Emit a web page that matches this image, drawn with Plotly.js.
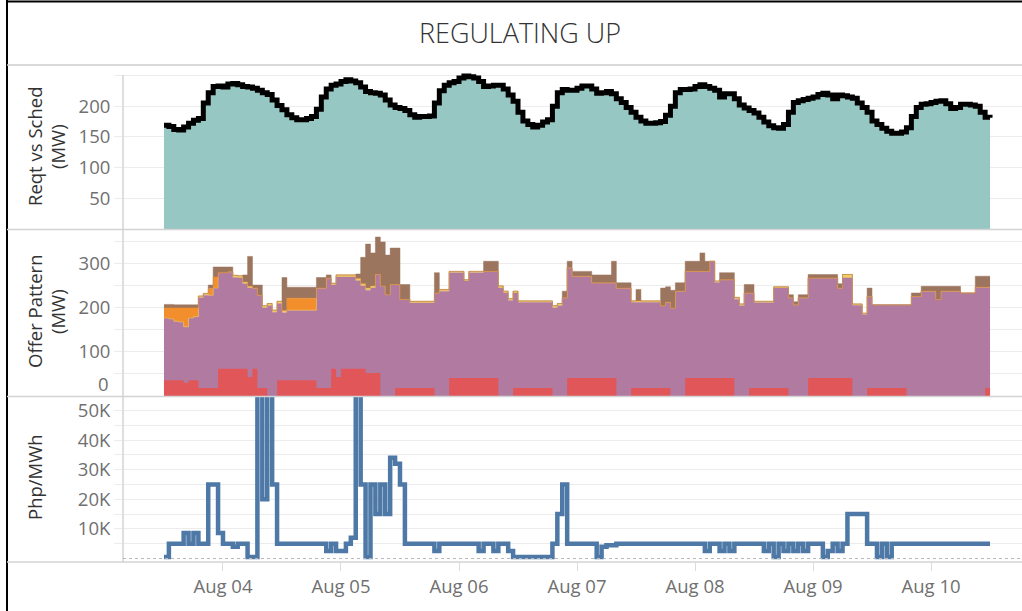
<!DOCTYPE html>
<html><head><meta charset="utf-8">
<script src="https://cdn.plot.ly/plotly-3.0.1.min.js"></script>
<style>html,body{margin:0;padding:0;background:#fff;}#chart{width:1022px;height:611px;}</style>
</head><body><div id="chart"></div>
<script>
// ---------- DATA (hourly, starting Aug 03 12:00) ----------
const startYear = 2023, startMonth = 8, startDay = 3, startHour = 12;
const chartTitle = 'REGULATING UP';
const dateTicks = ['2023-08-04','2023-08-05','2023-08-06','2023-08-07','2023-08-08','2023-08-09','2023-08-10'];

const req = [169,167,162,161,166,172,177,180,205,222,
232,233,231,236,237,235,232,231,229,226,
222,219,210,201,194,186,181,178,178,180,
183,195,215,228,234,236,240,243,241,238,
231,224,222,221,218,210,202,198,196,193,
186,182,183,183,184,205,225,234,238,240,
246,249,248,246,240,232,233,234,234,228,
218,208,190,176,170,166,169,174,178,200,
222,227,226,226,229,233,233,228,221,222,
224,220,212,206,198,190,182,176,172,172,
173,175,185,200,222,227,227,228,232,235,
232,229,226,215,220,220,212,202,197,193,
189,182,174,168,165,164,170,190,206,209,
211,213,215,219,221,218,212,218,217,215,
213,205,198,190,176,170,164,159,156,156,
158,165,183,198,203,204,206,208,209,204,
196,198,203,203,202,200,190,182,181];

const sched = [169,167,162,161,166,172,177,180,205,222,
232,233,231,236,237,235,232,231,229,226,
222,219,210,201,194,186,181,178,178,180,
183,195,215,228,234,236,240,243,241,238,
231,224,222,221,218,210,202,198,196,193,
186,182,183,183,184,205,225,234,238,240,
246,249,248,246,240,232,233,234,234,228,
218,208,190,176,170,166,169,174,178,200,
222,227,226,226,229,233,233,228,221,222,
224,220,212,206,198,190,182,176,172,172,
173,175,185,200,222,227,227,228,232,235,
232,229,226,215,220,220,212,202,197,193,
189,182,174,168,165,164,170,190,206,209,
211,213,215,219,221,218,212,218,217,215,
213,205,198,190,176,170,164,159,156,156,
158,165,183,198,203,204,206,208,209,204,
196,198,203,203,202,200,190,182,181];

const offerPurple = [177,175,170,168,157,177,180,223,229,229,
245,280,280,282,269,268,255,245,245,229,
200,205,190,210,189,195,195,195,195,195,
195,245,245,268,252,270,270,270,270,262,
250,240,245,276,250,230,253,253,219,219,
211,211,211,211,211,234,238,238,280,280,
280,261,280,280,280,283,283,283,245,234,
217,234,213,213,213,213,213,213,213,200,
205,223,291,272,272,272,272,257,257,257,
257,257,245,245,245,213,213,213,213,213,
213,205,213,200,238,238,283,283,283,283,
283,306,258,264,264,264,220,205,234,234,
212,212,212,212,245,245,245,223,207,223,
223,268,268,268,268,268,268,245,268,268,
206,206,185,226,207,207,207,207,207,207,
207,207,226,226,238,238,238,219,238,238,
238,238,234,234,234,247,247,247,247];

const offerYellow = [0,0,0,0,0,0,0,4,4,0,
0,0,0,0,5,5,4,4,0,0,
5,5,5,5,5,0,0,0,0,0,
0,0,0,0,4,5,5,5,5,5,
5,5,5,0,0,0,0,0,0,0,
4,4,4,4,4,0,4,4,3,3,
3,3,3,3,3,0,0,0,5,4,
4,4,3,3,3,3,3,3,3,5,
5,0,0,0,0,0,0,0,0,0,
0,0,0,0,0,3,3,3,3,3,
3,0,0,0,0,0,0,0,0,0,
0,0,3,0,0,0,4,4,0,0,
3,3,3,3,3,3,3,0,0,0,
0,0,0,0,0,0,0,0,8,8,
3,3,3,0,0,0,0,0,0,0,
0,0,0,0,0,0,0,0,0,0,
0,0,0,0,0,0,0,0,0];

const offerOrange = [23,25,30,32,43,23,20,0,0,15,
25,0,0,0,0,0,0,0,0,0,
0,0,0,0,0,27,27,27,27,27,
27,0,0,0,0,0,0,0,0,0,
0,0,0,0,0,0,0,0,0,0,
0,0,0,0,0,0,0,0,0,0,
0,0,0,0,0,0,0,0,0,0,
0,0,0,0,0,0,0,0,0,0,
0,0,0,0,0,0,0,0,0,0,
0,0,0,0,0,0,0,0,0,0,
0,0,0,0,0,0,0,0,0,0,
0,0,0,0,0,0,0,0,0,0,
0,0,0,0,0,0,0,0,0,0,
0,0,0,0,0,0,0,0,0,0,
0,0,0,0,0,0,0,0,0,0,
0,0,0,0,0,0,0,0,0,0,
0,0,0,0,0,0,0,0,0];

const offerBrown = [8,8,7,7,7,7,7,0,0,8,
23,13,13,11,0,0,16,68,7,23,
0,0,0,0,75,25,25,25,25,25,
25,24,24,7,0,0,0,0,0,10,
60,100,75,85,100,90,83,83,34,34,
0,0,0,0,0,46,0,0,0,0,
0,0,0,0,0,23,23,23,0,0,
0,0,0,0,0,0,0,0,0,0,
0,15,15,11,11,11,11,18,18,18,
18,49,12,12,12,0,26,0,0,0,
0,40,35,40,19,19,23,23,23,42,
23,0,0,16,16,16,0,0,19,19,
0,0,0,0,0,0,0,7,7,7,
7,8,8,8,8,8,8,10,0,0,
0,0,0,19,0,0,0,0,0,0,
0,0,8,8,11,11,11,30,11,11,
11,11,0,0,0,25,25,25,25];

const offerRed = [36,36,36,36,30,36,36,18,18,18,
18,62,62,62,62,62,62,43,62,18,
18,0,0,36,36,36,36,36,36,36,
36,18,18,18,62,43,62,62,62,62,
62,52,52,52,0,0,0,18,18,18,
18,18,18,18,18,0,0,0,41,41,
41,41,41,41,41,41,41,41,0,0,
0,18,18,18,18,18,18,18,18,0,
0,0,41,41,41,41,41,41,41,41,
41,41,0,0,0,18,18,18,18,18,
18,18,18,0,0,0,41,41,41,41,
41,41,41,41,41,41,0,0,0,18,
18,18,18,18,18,18,18,0,0,0,
0,41,41,41,41,41,41,41,41,41,
0,0,0,18,18,18,18,18,18,18,
18,0,0,0,0,0,0,0,0,0,
0,0,0,0,0,0,0,18,18];

const price = [500,5000,5000,5000,8600,5000,8600,5000,5000,25000,
25000,8600,5000,5000,4000,5000,5000,500,500,60000,
20000,60000,25000,5000,5000,5000,5000,5000,5000,5000,
5000,5000,5000,2500,5000,2500,2500,5000,7000,60000,
25000,500,25000,15000,25000,15000,34000,32000,25000,5000,
5000,5000,5000,5000,5000,2500,5000,5000,5000,5000,
5000,5000,5000,5000,2500,5000,5000,2500,5000,5000,
2500,500,500,500,500,500,500,500,500,5000,
15000,25000,5000,5000,5000,5000,5000,5000,500,4000,
4500,4500,5000,5000,5000,5000,5000,5000,5000,5000,
5000,5000,5000,5000,5000,5000,5000,5000,5000,5000,
2500,5000,5000,2500,5000,2500,5000,5000,5000,5000,
5000,5000,2500,5000,500,5000,2500,5000,2500,5000,
2500,5000,5000,5000,500,2500,5000,2500,5000,15000,
15000,15000,15000,5000,5000,500,5000,500,5000,5000,
5000,5000,5000,5000,5000,5000,5000,5000,5000,5000,
5000,5000,5000,5000,5000,5000,5000,5000,5000];

const reqTickVals = [50,100,150,200,250];
const reqTickText = ['50','100','150','200',''];
const offerTickVals = [50,100,150,200,250,300,350];
const offerTickText = ['','100','','200','','300',''];
const priceTickVals = [5000,10000,15000,20000,25000,30000,35000,40000,45000,50000];
const priceTickText = ['','10K','','20K','','30K','','40K','','50K'];

// ---------- time axis ----------
function pad(n){return (n<10?'0':'')+n;}
function hourStamp(i){
  const d = new Date(Date.UTC(startYear, startMonth-1, startDay, startHour + i));
  return d.getUTCFullYear()+'-'+pad(d.getUTCMonth()+1)+'-'+pad(d.getUTCDate())+' '+pad(d.getUTCHours())+':00';
}
const times = req.map((_, i) => hourStamp(i));

// ---------- layout geometry (pixels) ----------
const W = 1022, H = 611, L = 123, R = 0, T = 65, B = 49;
const PW = W - L - R, PH = H - T - B;
const px = x => (x - L) / PW;
const py = y => (H - B - y) / PH;

const FONT = '"Open Sans", Lato, sans-serif';
const tickFont = {family: FONT, size: 18.5, color: '#707070'};
const titleFont = {family: FONT, size: 18.5, color: '#333333'};
const GRID = '#ececec';

const traces = [
  {x: times, y: sched, yaxis: 'y', type: 'scatter', mode: 'lines', fill: 'tozeroy',
   fillcolor: '#96c7c2', line: {color: '#80bdb7', width: 1, shape: 'hv'}, hoverinfo: 'skip'},
  {x: times, y: req, yaxis: 'y', type: 'scatter', mode: 'lines',
   line: {color: '#000000', width: 5, shape: 'hv'}, hoverinfo: 'skip'},
  {x: times, y: offerPurple, yaxis: 'y2', type: 'scatter', mode: 'lines', stackgroup: 'offer',
   fillcolor: '#b07aa1', line: {color: '#b07aa1', width: 0.5, shape: 'hv'}, hoverinfo: 'skip'},
  {x: times, y: offerYellow, yaxis: 'y2', type: 'scatter', mode: 'lines', stackgroup: 'offer',
   fillcolor: '#f1ce63', line: {color: '#f1ce63', width: 0.5, shape: 'hv'}, hoverinfo: 'skip'},
  {x: times, y: offerOrange, yaxis: 'y2', type: 'scatter', mode: 'lines', stackgroup: 'offer',
   fillcolor: '#f28e2b', line: {color: '#f28e2b', width: 0.5, shape: 'hv'}, hoverinfo: 'skip'},
  {x: times, y: offerBrown, yaxis: 'y2', type: 'scatter', mode: 'lines', stackgroup: 'offer',
   fillcolor: '#9c755f', line: {color: '#9c755f', width: 0.5, shape: 'hv'}, hoverinfo: 'skip'},
  {x: times, y: offerRed, yaxis: 'y2', type: 'scatter', mode: 'lines', fill: 'tozeroy',
   fillcolor: '#e15759', line: {color: '#e15759', width: 0, shape: 'hv'}, hoverinfo: 'skip'},
  {x: times, y: price, yaxis: 'y3', type: 'scatter', mode: 'lines',
   line: {color: '#4e79a7', width: 4.5, shape: 'hv'}, hoverinfo: 'skip'}
];

const sepColor = '#d3d3d3';
const shapes = [
  {type:'line', xref:'paper', yref:'paper', x0:px(7), x1:px(7), y0:py(611), y1:py(0), line:{color:'#000', width:2}},
  {type:'line', xref:'paper', yref:'paper', x0:px(6), x1:px(1022), y0:py(1.5), y1:py(1.5), line:{color:'#000', width:2}},
  {type:'line', xref:'paper', yref:'paper', x0:px(7), x1:1, y0:py(65), y1:py(65), line:{color:'#cccccc', width:1.5}},
  {type:'line', xref:'paper', yref:'paper', x0:px(7), x1:1, y0:py(229.5), y1:py(229.5), line:{color:sepColor, width:1.5}},
  {type:'line', xref:'paper', yref:'paper', x0:px(7), x1:1, y0:py(396.5), y1:py(396.5), line:{color:sepColor, width:1.5}},
  {type:'line', xref:'paper', yref:'paper', x0:px(7), x1:1, y0:py(562), y1:py(562), line:{color:sepColor, width:1.5}},
  {type:'line', xref:'paper', yref:'paper', x0:px(123), x1:px(123), y0:py(562), y1:py(75), line:{color:sepColor, width:1.5}},
  {type:'line', xref:'paper', yref:'y3', x0:0, x1:1, y0:0, y1:0, line:{color:'#b8b8b8', width:1, dash:'dot'}}
];

const annotations = [
  {text:'Reqt vs Sched', xref:'paper', yref:'paper', x:px(34), y:py(147), textangle:-90, showarrow:false, font:titleFont, xanchor:'center', yanchor:'middle'},
  {text:'(MW)', xref:'paper', yref:'paper', x:px(57), y:py(147), textangle:-90, showarrow:false, font:titleFont, xanchor:'center', yanchor:'middle'},
  {text:'Offer Pattern', xref:'paper', yref:'paper', x:px(34), y:py(312), textangle:-90, showarrow:false, font:titleFont, xanchor:'center', yanchor:'middle'},
  {text:'(MW)', xref:'paper', yref:'paper', x:px(57), y:py(312), textangle:-90, showarrow:false, font:titleFont, xanchor:'center', yanchor:'middle'},
  {text:'Php/MWh', xref:'paper', yref:'paper', x:px(34), y:py(477), textangle:-90, showarrow:false, font:titleFont, xanchor:'center', yanchor:'middle'},
  {text:'0', xref:'paper', yref:'paper', x:px(111), y:py(383), showarrow:false, font:tickFont, xanchor:'right', yanchor:'middle'}
];

const yCommon = {
  anchor:'x', showgrid:true, gridcolor:GRID, gridwidth:1, zeroline:false, showline:false,
  ticks:'outside', ticklen:8, tickcolor:GRID, tickfont:tickFont, tickmode:'array', fixedrange:true
};

const layout = {
  width: W, height: H,
  margin: {l:L, r:R, t:T, b:B, pad:0},
  paper_bgcolor:'#ffffff', plot_bgcolor:'rgba(0,0,0,0)',
  showlegend:false,
  font:{family:FONT},
  title:{text:chartTitle, xref:'container', yref:'container', x:520/W, y:1-34/H, xanchor:'center', yanchor:'middle',
         font:{family:FONT, size:27, color:'#333333', weight:300}},
  xaxis:{type:'date', anchor:'y3', domain:[0,1], range:['2023-08-03 03:40','2023-08-10 18:30'],
         tickmode:'array', tickvals:dateTicks, tickformat:'%b %d', ticks:'outside', ticklen:8, tickcolor:'#dcdcdc',
         showgrid:false, zeroline:false, showline:false, tickfont:tickFont, fixedrange:true},
  yaxis:Object.assign({}, yCommon, {domain:[py(229), 1], range:[0,267], tickvals:reqTickVals, ticktext:reqTickText}),
  yaxis2:Object.assign({}, yCommon, {domain:[py(396), py(230)], range:[0,377], tickvals:offerTickVals, ticktext:offerTickText}),
  yaxis3:Object.assign({}, yCommon, {domain:[0, py(397)], range:[-1180,54560], tickvals:priceTickVals, ticktext:priceTickText}),
  shapes: shapes,
  annotations: annotations
};

Plotly.newPlot('chart', traces, layout, {displayModeBar:false, staticPlot:true});
</script>
</body></html>
